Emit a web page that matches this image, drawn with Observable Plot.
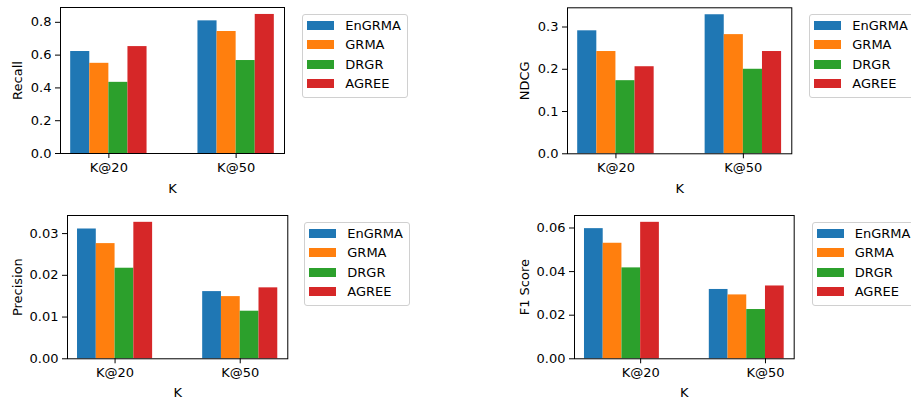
<!DOCTYPE html>
<html><head><meta charset="utf-8">
<script src="https://cdn.jsdelivr.net/npm/d3@7"></script>
<script src="https://cdn.jsdelivr.net/npm/@observablehq/plot@0.6"></script>
<style>
body{margin:0;background:#fff;}
#chart{position:relative;width:911px;height:399px;overflow:hidden;font-family:"DejaVu Sans",sans-serif;background:#fff;}
.panel{position:absolute;}
.legend{position:absolute;border:1px solid #d0d0d0;border-radius:3px;background:#fff;box-sizing:border-box;width:106px;height:84px;font-size:13px;color:#000;}
.legend .row{position:absolute;left:0;height:20px;display:flex;align-items:center;white-space:nowrap;}
.legend .sw{width:27px;height:9px;margin-left:4px;}
.legend .lab{margin-left:11px;}
</style>
</head><body>
<div id="chart"></div>
<script>
// ---- data ----
const methods = ["EnGRMA", "GRMA", "DRGR", "AGREE"];
const colors = ["#1f77b4", "#ff7f0e", "#2ca02c", "#d62728"];
const kLabels = ["K@20", "K@50"];

const recallK20 = [0.622, 0.550, 0.434, 0.652];
const recallK50 = [0.809, 0.744, 0.567, 0.848];
const recallTicks = [0, 0.2, 0.4, 0.6, 0.8];

const ndcgK20 = [0.291, 0.242, 0.173, 0.206];
const ndcgK50 = [0.329, 0.282, 0.200, 0.242];
const ndcgTicks = [0, 0.1, 0.2, 0.3];

const precisionK20 = [0.0311, 0.0276, 0.0217, 0.0327];
const precisionK50 = [0.0161, 0.0149, 0.0114, 0.0170];
const precisionTicks = [0, 0.01, 0.02, 0.03];

const f1K20 = [0.0597, 0.0530, 0.0417, 0.0626];
const f1K50 = [0.0318, 0.0293, 0.0226, 0.0334];
const f1Ticks = [0, 0.02, 0.04, 0.06];

// ---- layout ----
const barWidth = 0.15;
const panels = [
  {label: "Recall", v20: recallK20, v50: recallK50, ticks: recallTicks, fmt: ".1f", xOff: 0,
   frame: {l: 60, r: 284, t: 7, b: 153}, row: 0, ylabDx: -42.3, xlabDy: 35, legend: [302.3, 14.3]},
  {label: "NDCG", v20: ndcgK20, v50: ndcgK50, ticks: ndcgTicks, fmt: ".1f", xOff: 0,
   frame: {l: 567, r: 791.3, t: 7.3, b: 153.3}, row: 0, ylabDx: -42.7, xlabDy: 35, legend: [809.3, 14.3]},
  {label: "Precision", v20: precisionK20, v50: precisionK50, ticks: precisionTicks, fmt: ".2f", xOff: 0,
   frame: {l: 67, r: 287.3, t: 215, b: 358.3}, row: 1, ylabDx: -49.7, xlabDy: 34, legend: [304.3, 222.3]},
  {label: "F1 Score", v20: f1K20, v50: f1K50, ticks: f1Ticks, fmt: ".2f", xOff: 0.15,
   frame: {l: 574, r: 793.7, t: 215, b: 358.3}, row: 1, ylabDx: -50, xlabDy: 34, legend: [811.7, 222.3]}
];

const chart = document.getElementById("chart");

panels.forEach(p => {
  const rows = [];
  [p.v20, p.v50].forEach((vals, g) => vals.forEach((v, i) => rows.push({g, i, m: methods[i], value: v})));
  const ymax = d3.max(rows, d => d.value) * 1.05;
  const top = p.row === 0 ? 0 : 200;
  const bottom = p.row === 0 ? 200 : 399;
  const left = p.frame.l - 70;
  const width = p.frame.r - left + 10;
  const height = bottom - top;
  const xTicks = kLabels.map((k, g) => g + p.xOff);

  const svg = Plot.plot({
    width, height,
    marginLeft: 70, marginRight: 10,
    marginTop: p.frame.t - top, marginBottom: bottom - p.frame.b,
    style: {fontFamily: '"DejaVu Sans", sans-serif', fontSize: "13px", color: "black", background: "transparent", overflow: "visible"},
    x: {domain: [-0.38, 1.38]},
    y: {domain: [0, ymax]},
    color: {domain: methods, range: colors},
    marks: [
      Plot.rect(rows, {
        x1: d => d.g - 2 * barWidth + d.i * barWidth,
        x2: d => d.g - 2 * barWidth + (d.i + 1) * barWidth,
        y1: 0, y2: "value", fill: "m"
      }),
      Plot.frame({stroke: "black", strokeWidth: 1}),
      Plot.axisX({ticks: xTicks, tickFormat: d => kLabels[Math.round(d - p.xOff)], tickSize: 5, tickPadding: 4, label: null, fontSize: 13}),
      Plot.axisY({ticks: p.ticks, tickFormat: d3.format(p.fmt), tickSize: 5, tickPadding: 4, label: null, fontSize: 13}),
      Plot.text([p.label], {text: d => d, frameAnchor: "left", rotate: -90, dx: p.ylabDx, textAnchor: "middle", lineAnchor: "middle", fontSize: 13}),
      Plot.text(["K"], {text: d => d, frameAnchor: "bottom", dy: p.xlabDy, textAnchor: "middle", lineAnchor: "middle", fontSize: 13})
    ]
  });
  const wrap = document.createElement("div");
  wrap.className = "panel";
  wrap.style.left = left + "px";
  wrap.style.top = top + "px";
  wrap.appendChild(svg);
  chart.appendChild(wrap);

  // legend
  const lg = document.createElement("div");
  lg.className = "legend";
  lg.style.left = p.legend[0] + "px";
  lg.style.top = p.legend[1] + "px";
  methods.forEach((m, i) => {
    const r = document.createElement("div");
    r.className = "row";
    r.style.top = (i * 19.6 - 0.3) + "px";
    const sw = document.createElement("div");
    sw.className = "sw";
    sw.style.background = colors[i];
    const lab = document.createElement("span");
    lab.className = "lab";
    lab.textContent = m;
    r.appendChild(sw); r.appendChild(lab);
    lg.appendChild(r);
  });
  chart.appendChild(lg);
});
</script>
</body></html>
